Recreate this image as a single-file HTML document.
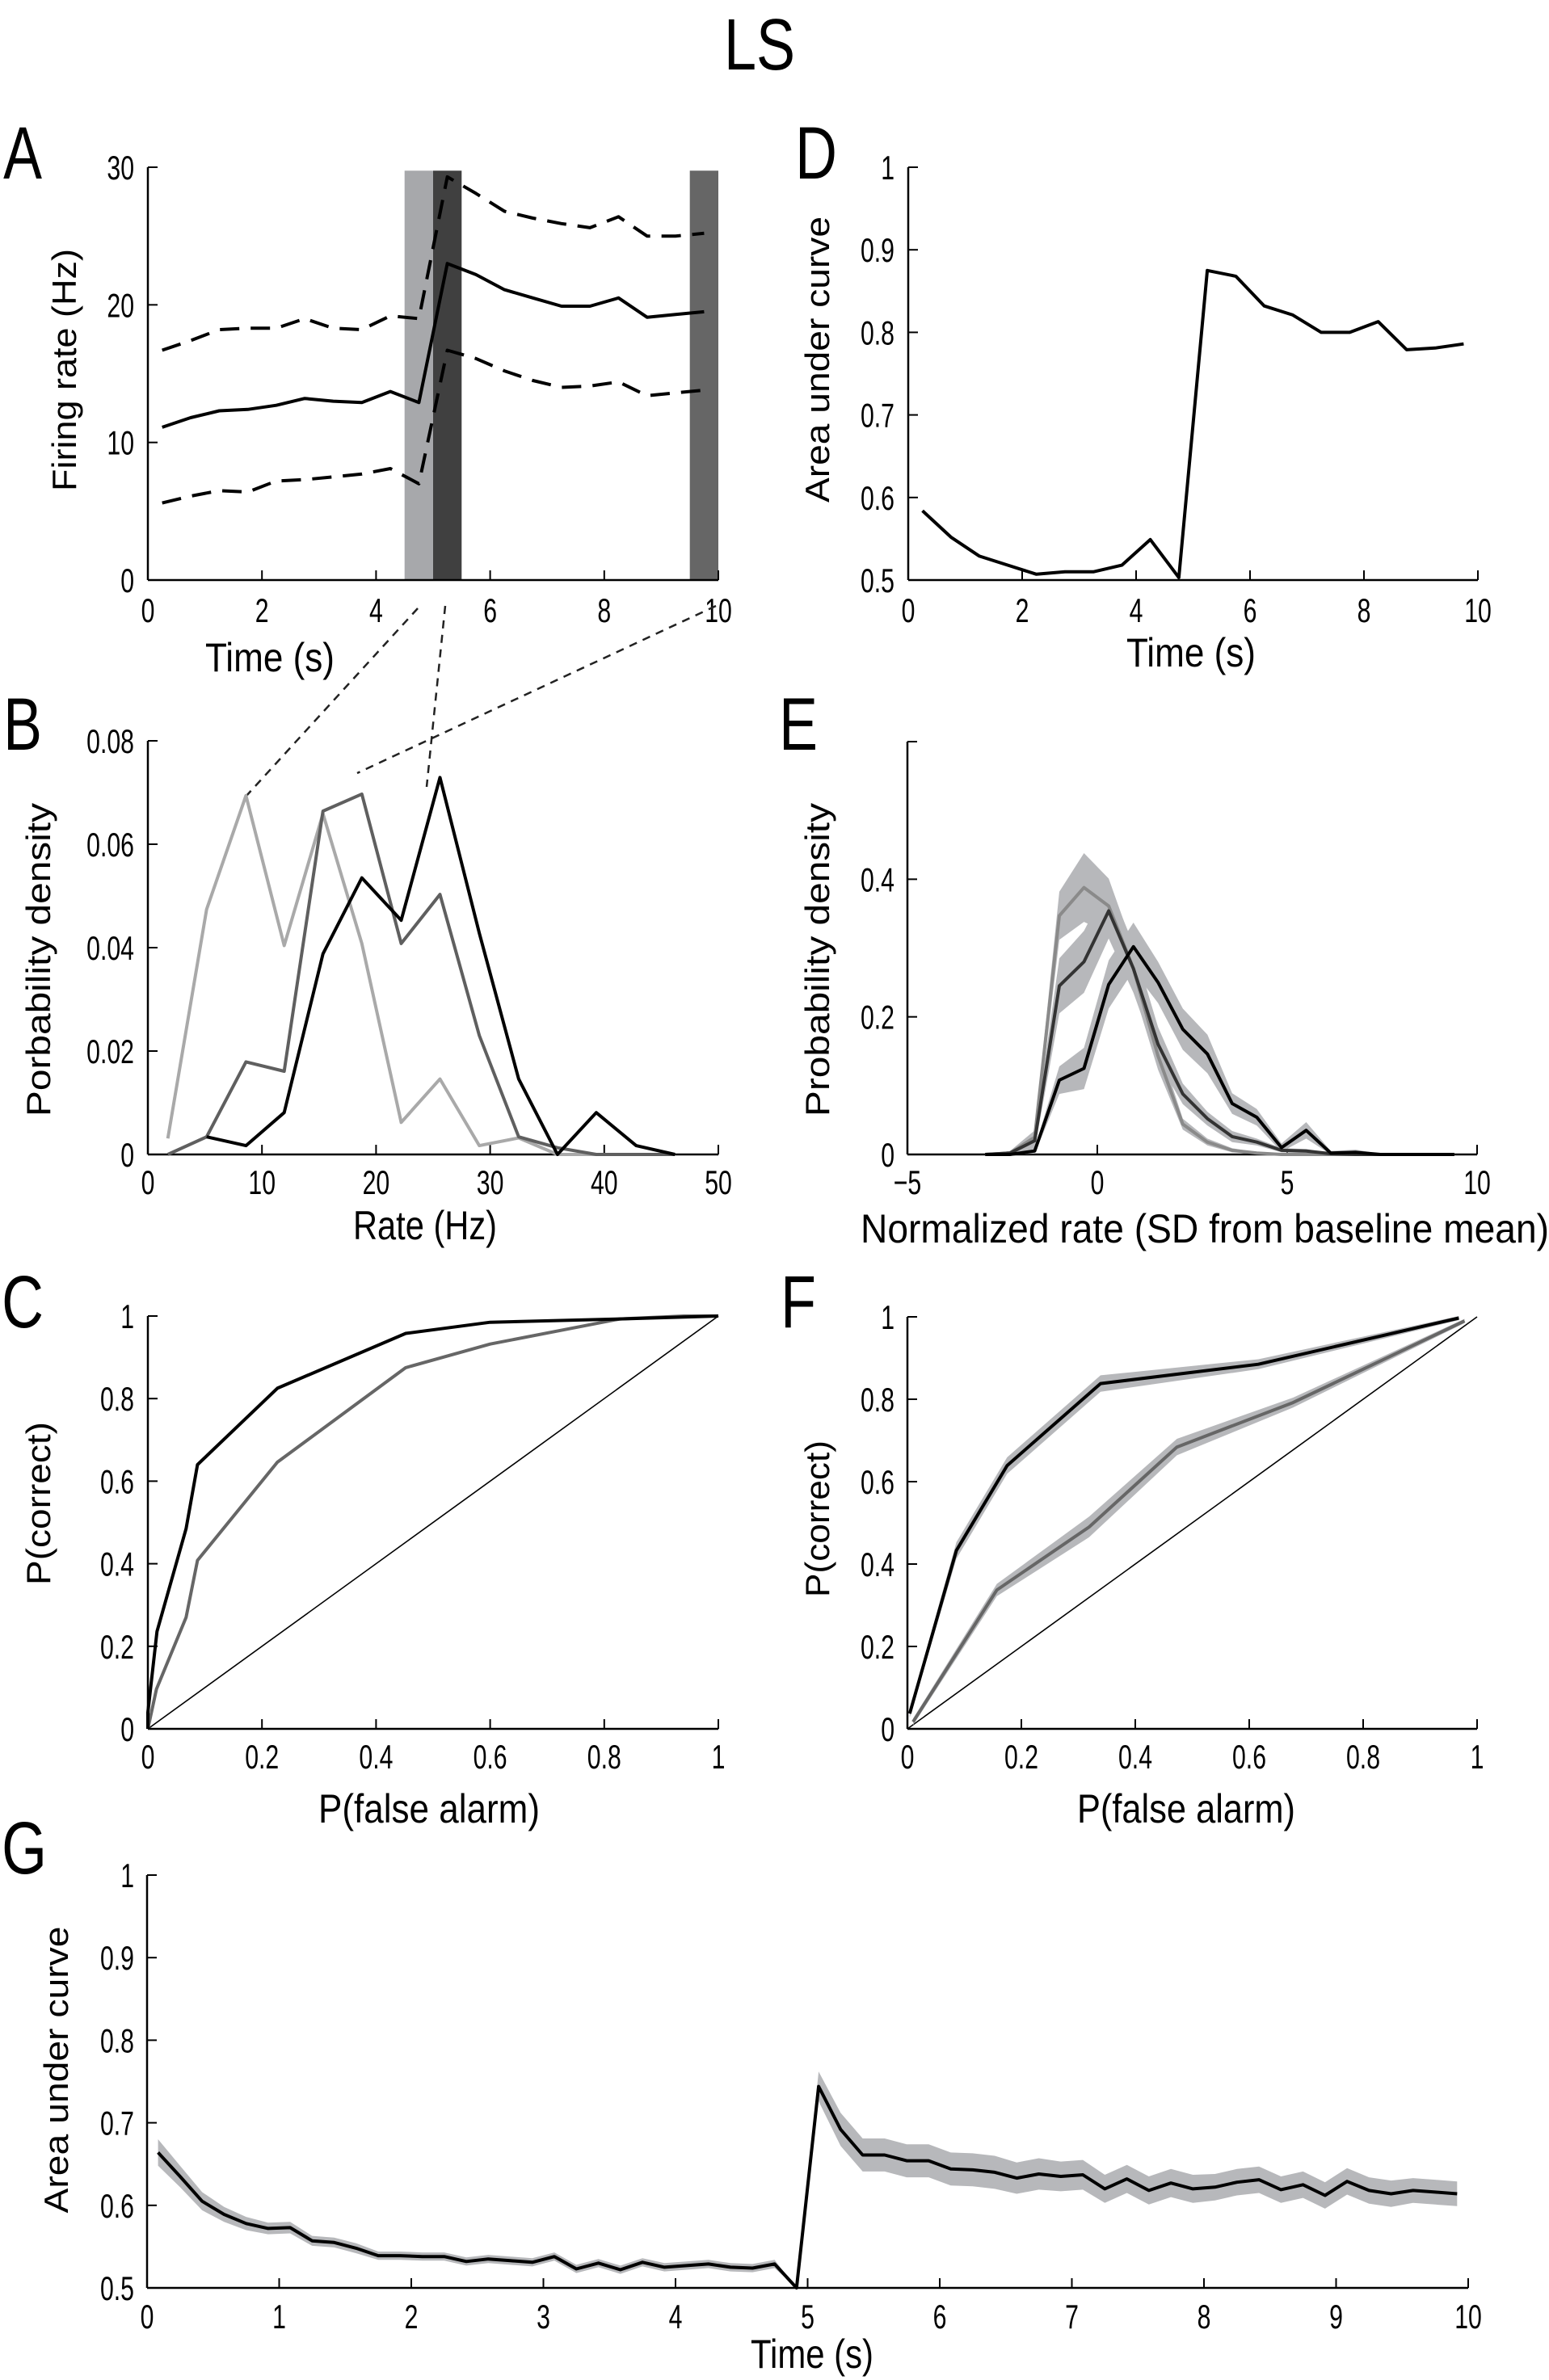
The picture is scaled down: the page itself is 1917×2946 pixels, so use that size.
<!DOCTYPE html>
<html><head><meta charset="utf-8"><style>
html,body{margin:0;padding:0;background:#fff}
svg{display:block}
text{font-family:"Liberation Sans Narrow","Liberation Sans",sans-serif;fill:#000}
.tk{font-size:42px}
.xl{font-size:50px}
.yl{font-family:"Liberation Sans",sans-serif;font-size:42px}
.pl{font-size:92px}
</style></head><body>
<svg id="fig" width="1917" height="2946" viewBox="0 0 1917 2946" xmlns="http://www.w3.org/2000/svg">
<text x="0" y="0" text-anchor="middle" transform="translate(940,86) scale(0.8,1)" style="font-size:90px">LS</text>
<g id="layer"></g>
</svg>
<script>
// ---- Panel A data ----
const aTimes=[0.25,0.75,1.25,1.75,2.25,2.75,3.25,3.75,4.25,4.75,5.25,5.75,6.25,6.75,7.25,7.75,8.25,8.75,9.25,9.75];
const aMean=[11.1,11.8,12.3,12.4,12.7,13.2,13.0,12.9,13.7,12.9,23.0,22.2,21.1,20.5,19.9,19.9,20.5,19.1,19.3,19.5];
const aUpper=[16.7,17.4,18.2,18.3,18.3,19.0,18.3,18.2,19.2,19.0,29.3,28.1,26.8,26.3,25.9,25.6,26.4,25.0,25.0,25.2];
const aLower=[5.6,6.1,6.5,6.4,7.2,7.3,7.5,7.7,8.1,7.0,16.7,16.1,15.2,14.5,14.0,14.1,14.4,13.4,13.6,13.8];
const aWindows=[[4.5,5.0],[5.0,5.5],[9.5,10.0]];
// ---- Panel B data ----
const bRates=[1.75,5.15,8.6,11.95,15.35,18.75,22.2,25.6,29.05,32.5,35.9,39.3,42.8,46.2];
const bBaseline=[0.0031,0.0474,0.0694,0.0404,0.0659,0.0408,0.0062,0.0146,0.0017,0.0032,0,0,0,0];
const bEarly=[0,0.0034,0.0179,0.0161,0.0664,0.0697,0.0408,0.0503,0.0230,0.0034,0.0013,0,0,0];
const bLate=[null,0.0034,0.0017,0.0081,0.0388,0.0535,0.0453,0.0729,0.0428,0.0146,0,0.0081,0.0017,0];
// ---- Panel C data ----
const cFA1=[0,0,0.016,0.067,0.087,0.227,0.452,0.60,0.827,1];
const cHit1=[0,0.04,0.236,0.485,0.64,0.825,0.958,0.985,0.993,1];
const cFA2=[0,0.015,0.067,0.087,0.227,0.452,0.60,0.827,0.94,1];
const cHit2=[0,0.096,0.27,0.408,0.646,0.875,0.932,0.993,1,1];
// ---- Panel D data ----
const dTimes=[0.25,0.75,1.25,1.75,2.25,2.75,3.25,3.75,4.25,4.75,5.25,5.75,6.25,6.75,7.25,7.75,8.25,8.75,9.25,9.75];
const dAUC=[0.584,0.552,0.529,0.518,0.507,0.510,0.510,0.518,0.549,0.503,0.875,0.868,0.832,0.821,0.800,0.800,0.813,0.779,0.781,0.786];
// ---- Panel E data ----
const eBins=[-2.95,-2.3,-1.65,-1.0,-0.35,0.3,0.95,1.6,2.25,2.9,3.55,4.2,4.85,5.5,6.15,6.8,7.45,8.1,8.75,9.4];
const eBase=[0,0.002,0.025,0.347,0.388,0.361,0.27,0.143,0.044,0.018,0.006,0.002,0,0,0,0,0,0,0,0];
const eBaseErr=[0,0.003,0.01,0.035,0.05,0.04,0.03,0.02,0.008,0.005,0.003,0.001,0,0,0,0,0,0,0,0];
const eEarly=[0,0.002,0.02,0.245,0.28,0.354,0.27,0.16,0.088,0.052,0.026,0.018,0.006,0.005,0.001,0,0,0,0,0];
const eEarlyErr=[0,0.003,0.012,0.04,0.045,0.04,0.035,0.025,0.015,0.01,0.008,0.005,0.003,0.003,0.001,0,0,0,0,0];
const eLate=[0,0,0.005,0.108,0.125,0.247,0.302,0.25,0.182,0.146,0.074,0.054,0.01,0.035,0.002,0.003,0,0,0,0];
const eLateErr=[0,0,0.004,0.02,0.03,0.035,0.035,0.03,0.03,0.028,0.015,0.012,0.006,0.012,0.003,0.004,0.001,0,0,0];
// ---- Panel F data ----
const fFA1=[0.004,0.086,0.175,0.339,0.616,0.968];
const fHit1=[0.037,0.433,0.639,0.838,0.885,0.997];
const fFA2=[0.01,0.157,0.319,0.473,0.677,0.978];
const fHit2=[0.017,0.337,0.49,0.684,0.792,0.99];
const fErr1=[0.01,0.02,0.02,0.02,0.012,0.005];
const fErr2=[0.008,0.015,0.025,0.02,0.012,0.005];
// ---- Panel G data ----
const gAUC=[0.664,0.635,0.605,0.589,0.578,0.572,0.573,0.557,0.555,0.548,0.539,0.539,0.538,0.538,0.532,0.535,0.533,0.531,0.538,0.523,0.530,0.522,0.531,0.525,0.527,0.529,0.525,0.524,0.529,0.5,
0.744,0.692,0.661,0.661,0.654,0.654,0.644,0.643,0.640,0.633,0.638,0.635,0.637,0.620,0.632,0.618,0.627,0.620,0.622,0.628,0.631,0.619,0.625,0.612,0.629,0.618,0.614,0.618,0.616,0.614];
const gErr=[0.016,0.013,0.011,0.009,0.008,0.007,0.007,0.006,0.006,0.006,0.005,0.005,0.005,0.005,0.005,0.005,0.005,0.005,0.005,0.005,0.005,0.005,0.005,0.005,0.005,0.005,0.005,0.005,0.005,0.0,
0.018,0.02,0.02,0.02,0.02,0.02,0.02,0.02,0.02,0.019,0.019,0.018,0.018,0.017,0.017,0.017,0.017,0.017,0.016,0.016,0.016,0.016,0.016,0.016,0.016,0.016,0.016,0.015,0.015,0.015];
const gStep=1/6, gStart=0.083;

const NS="http://www.w3.org/2000/svg";
const layer=document.getElementById('layer');
function mk(tag,attrs,parent){const e=document.createElementNS(NS,tag);for(const k in attrs)e.setAttribute(k,attrs[k]);(parent||layer).appendChild(e);return e;}
function lin(d0,d1,p0,p1){return v=>p0+(v-d0)*(p1-p0)/(d1-d0);}
function pathD(xs,ys,X,Y){let d='',pen=false;for(let i=0;i<xs.length;i++){if(ys[i]===null){pen=false;continue;}d+=(pen?'L':'M')+X(xs[i]).toFixed(1)+','+Y(ys[i]).toFixed(1);pen=true;}return d;}
function bandD(xs,ys,es,X,Y){let a=[],b=[];for(let i=0;i<xs.length;i++){a.push(X(xs[i]).toFixed(1)+','+Y(ys[i]+es[i]).toFixed(1));b.unshift(X(xs[i]).toFixed(1)+','+Y(Math.max(0,ys[i]-es[i])).toFixed(1));}return 'M'+a.concat(b).join('L')+'Z';}
const SX=0.72;
function axes(name,x0,x1,y0,y1){
  const g=mk('g',{});
  
  
  const xa=mk('line',{x1:x0,y1:y0,x2:x1,y2:y0,stroke:'#000','stroke-width':2.5},g);
  
  const ya=mk('line',{x1:x0,y1:y0,x2:x0,y2:y1,stroke:'#000','stroke-width':2.5},g);
  
  return g;
}
function ticks(g,name,X,Y,xv,yv,xlab,ylab,x0,y0,xBase,yRight){
  xv.forEach((v,i)=>{
    const px=X(v);
    const l=mk('line',{x1:px,y1:y0,x2:px,y2:y0-12,stroke:'#000','stroke-width':2},g);
    
    const t=mk('text',{x:0,y:0,'text-anchor':'middle','class':'tk',transform:'translate('+px+','+xBase+') scale('+SX+',1)'},g);t.textContent=xlab[i];
    
  });
  yv.forEach((v,i)=>{
    const py=Y(v);
    const l=mk('line',{x1:x0,y1:py,x2:x0+12,y2:py,stroke:'#000','stroke-width':2},g);
    
    if(ylab[i]!==''){
    const t=mk('text',{x:0,y:0,'text-anchor':'end','class':'tk',transform:'translate('+yRight+','+(py+15)+') scale('+SX+',1)'},g);t.textContent=ylab[i];
    }
  });
}
function label(txt,name,x,y,cls,rot,len){
  const a={x:x,y:y,'text-anchor':'middle','class':cls};
  if(rot)a.transform='rotate(-90 '+x+' '+y+')';
  if(len){a.textLength=len;a.lengthAdjust='spacingAndGlyphs';}
  if(cls==='pl'){a.x=0;a.y=0;a.transform='translate('+x+','+y+') scale(0.78,1)';}
  const t=mk('text',a);t.textContent=txt;
  
}
function line(d,name,color,w,dash){
  const p=mk('path',{d:d,fill:'none',stroke:color,'stroke-width':w,'stroke-linejoin':'round'});
  if(dash)p.setAttribute('stroke-dasharray',dash);
  return p;
}
function band(d,name){const p=mk('path',{d:d,fill:'#b7b8bb',stroke:'none'});}

// ===== Panel A =====
(function(){
  const X=lin(0,10,183,889),Y=lin(0,30,718,207);
  aWindows.forEach((w,i)=>{
    const r=mk('rect',{x:X(w[0]),y:Y(29.75),width:X(w[1])-X(w[0]),height:Y(0)-Y(29.75),fill:['#a7a8ab','#404040','#666666'][i]});
    
  });
  const g=axes('panel-a',183,889,718,207);
  ticks(g,'panel-a',X,Y,[0,2,4,6,8,10],[0,10,20,30],['0','2','4','6','8','10'],['0','10','20','30'],183,718,770,166);
  line(pathD(aTimes,aUpper,X,Y),'upper-bound-line','#000',4,'24,14');
  line(pathD(aTimes,aLower,X,Y),'lower-bound-line','#000',4,'24,14');
  line(pathD(aTimes,aMean,X,Y),'mean-rate-line','#000',4);
  label('Time (s)','panel-a-x-title',334,831,'xl',false,160);
  label('Firing rate (Hz)','panel-a-y-title',94,458,'yl',true,300);
  label('A','panel-a-letter',28,221,'pl');
})();
[[517,753,305,985],[551,750,528,974],[886,750,442,957]].forEach((c,i)=>{
  const l=mk('line',{x1:c[0],y1:c[1],x2:c[2],y2:c[3],stroke:'#222','stroke-width':2.5,'stroke-dasharray':'10,8'});
  
});
// ===== Panel B =====
(function(){
  const X=lin(0,50,183,889),Y=lin(0,0.08,1429,917);
  const g=axes('panel-b',183,889,1429,917);
  ticks(g,'panel-b',X,Y,[0,10,20,30,40,50],[0,0.02,0.04,0.06,0.08],['0','10','20','30','40','50'],['0','0.02','0.04','0.06','0.08'],183,1429,1478,166);
  line(pathD(bRates,bBaseline,X,Y),'baseline-density-line','#a9a9a9',4);
  line(pathD(bRates,bEarly,X,Y),'early-density-line','#5f5f5f',4);
  line(pathD(bRates,bLate,X,Y),'late-density-line','#000',4);
  label('Rate (Hz)','panel-b-x-title',526,1534,'xl',false,178);
  label('Porbability density','panel-b-y-title',62,1188,'yl',true,388);
  label('B','panel-b-letter',28,928,'pl');
})();
// ===== Panel C =====
(function(){
  const X=lin(0,1,183,889),Y=lin(0,1,2140,1629);
  const g=axes('panel-c',183,889,2140,1629);
  ticks(g,'panel-c',X,Y,[0,0.2,0.4,0.6,0.8,1],[0,0.2,0.4,0.6,0.8,1],['0','0.2','0.4','0.6','0.8','1'],['0','0.2','0.4','0.6','0.8','1'],183,2140,2189,166);
  line('M'+X(0)+','+Y(0)+'L'+X(1)+','+Y(1),'chance-diagonal','#000',1.6);
  line(pathD(cFA2,cHit2,X,Y),'early-roc-line','#666',4);
  line(pathD(cFA1,cHit1,X,Y),'late-roc-line','#000',4);
  label('P(false alarm)','panel-c-x-title',531,2256,'xl',false,274);
  label('P(correct)','panel-c-y-title',62,1861,'yl',true,202);
  label('C','panel-c-letter',28,1643,'pl');
})();
// ===== Panel D =====
(function(){
  const X=lin(0,10,1124,1829),Y=lin(0.5,1,718,207);
  const g=axes('panel-d',1124,1829,718,207);
  ticks(g,'panel-d',X,Y,[0,2,4,6,8,10],[0.5,0.6,0.7,0.8,0.9,1],['0','2','4','6','8','10'],['0.5','0.6','0.7','0.8','0.9','1'],1124,718,770,1107);
  line(pathD(dTimes,dAUC,X,Y),'auc-line','#000',4);
  label('Time (s)','panel-d-x-title',1474,825,'xl',false,160);
  label('Area under curve','panel-d-y-title',1026,445,'yl',true,354);
  label('D','panel-d-letter',1010,221,'pl');
})();
// ===== Panel E =====
(function(){
  const X=lin(-5,10,1123,1828),Y=lin(0,0.6,1429,918);
  const g=axes('panel-e',1123,1828,1429,918);
  ticks(g,'panel-e',X,Y,[-5,0,5,10],[0,0.2,0.4,0.6],['\u22125','0','5','10'],['0','0.2','0.4',''],1123,1429,1478,1107);
  band(bandD(eBins,eBase,eBaseErr,X,Y),'baseline-band');
  band(bandD(eBins,eEarly,eEarlyErr,X,Y),'early-band');
  band(bandD(eBins,eLate,eLateErr,X,Y),'late-band');
  line(pathD(eBins,eBase,X,Y),'baseline-norm-line','#8a8a8a',4);
  line(pathD(eBins,eEarly,X,Y),'early-norm-line','#333',4);
  line(pathD(eBins,eLate,X,Y),'late-norm-line','#000',4);
  label('Normalized rate (SD from baseline mean)','panel-e-x-title',1491,1538,'xl',false,852);
  label('Probability density','panel-e-y-title',1026,1188,'yl',true,388);
  label('E','panel-e-letter',988,928,'pl');
})();
// ===== Panel F =====
(function(){
  const X=lin(0,1,1123,1828),Y=lin(0,1,2140,1630);
  const g=axes('panel-f',1123,1828,2140,1630);
  ticks(g,'panel-f',X,Y,[0,0.2,0.4,0.6,0.8,1],[0,0.2,0.4,0.6,0.8,1],['0','0.2','0.4','0.6','0.8','1'],['0','0.2','0.4','0.6','0.8','1'],1123,2140,2189,1107);
  line('M'+X(0)+','+Y(0)+'L'+X(1)+','+Y(1),'chance-diagonal-f','#000',1.6);
  band(bandD(fFA2,fHit2,fErr2,X,Y),'early-roc-band');
  band(bandD(fFA1,fHit1,fErr1,X,Y),'late-roc-band');
  line(pathD(fFA2,fHit2,X,Y),'early-mean-roc-line','#666',4);
  line(pathD(fFA1,fHit1,X,Y),'late-mean-roc-line','#000',4);
  label('P(false alarm)','panel-f-x-title',1468,2256,'xl',false,270);
  label('P(correct)','panel-f-y-title',1026,1880,'yl',true,194);
  label('F','panel-f-letter',988,1643,'pl');
})();
// ===== Panel G =====
(function(){
  const X=lin(0,10,182,1817),Y=lin(0.5,1,2832,2321);
  const gT=gAUC.map((v,i)=>gStart+i*gStep);
  const g=axes('panel-g',182,1817,2832,2321);
  ticks(g,'panel-g',X,Y,[0,1,2,3,4,5,6,7,8,9,10],[0.5,0.6,0.7,0.8,0.9,1],['0','1','2','3','4','5','6','7','8','9','10'],['0.5','0.6','0.7','0.8','0.9','1'],182,2832,2882,166);
  band(bandD(gT,gAUC,gErr,X,Y),'population-auc-band');
  line(pathD(gT,gAUC,X,Y),'population-auc-line','#000',4);
  label('Time (s)','panel-g-x-title',1005,2931,'xl',false,152);
  label('Area under curve','panel-g-y-title',84,2562,'yl',true,355);
  label('G','panel-g-letter',30,2319,'pl');
})();
</script>
</body></html>
